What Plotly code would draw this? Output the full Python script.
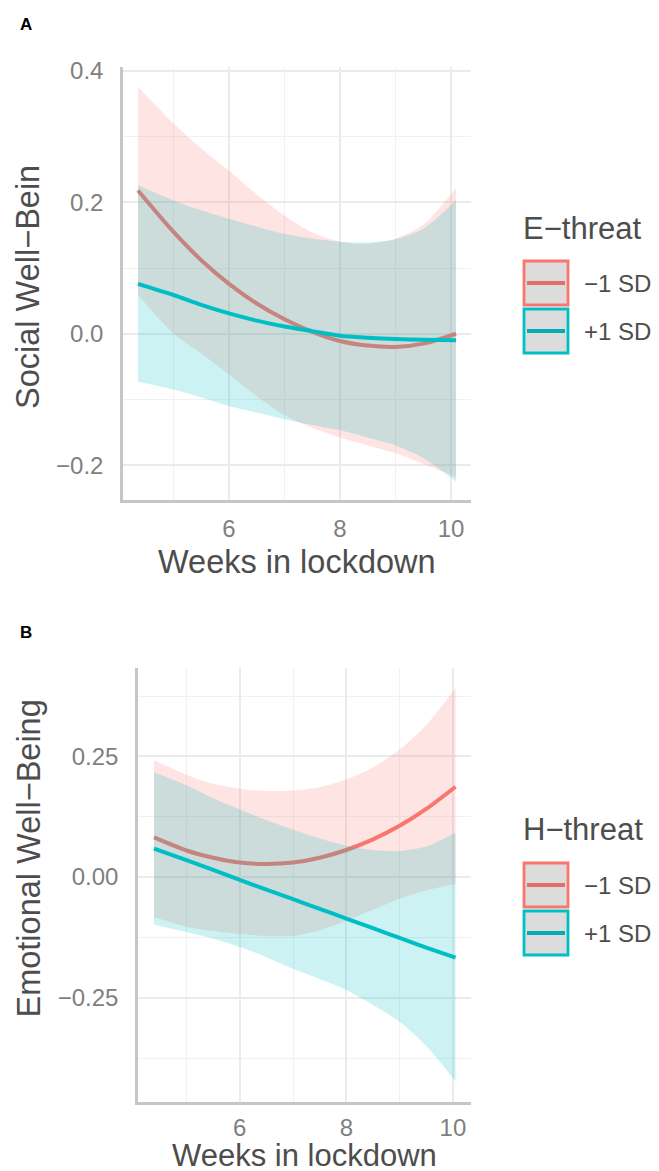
import plotly.graph_objects as go

W, H = 659, 1171

# ---------------- Panel A data (Social Well-Being, E-threat) ----------------
weeks_a = [4.36, 5.0, 5.5, 6.0, 6.5, 7.0, 7.5, 8.0, 8.5, 9.0, 9.5, 10.09]
a_minus_fit = [0.218, 0.155, 0.112, 0.076, 0.046, 0.022, 0.003, -0.011, -0.018, -0.020, -0.015, 0.000]
a_minus_hi = [0.376, 0.320, 0.282, 0.248, 0.212, 0.180, 0.154, 0.140, 0.137, 0.145, 0.166, 0.222]
a_minus_lo = [0.059, 0.000, -0.030, -0.062, -0.095, -0.124, -0.143, -0.158, -0.170, -0.182, -0.198, -0.218]
a_plus_fit = [0.076, 0.059, 0.044, 0.031, 0.020, 0.011, 0.004, -0.003, -0.006, -0.008, -0.009, -0.010]
a_plus_hi = [0.226, 0.203, 0.188, 0.175, 0.163, 0.152, 0.145, 0.140, 0.139, 0.144, 0.160, 0.203]
a_plus_lo = [-0.073, -0.085, -0.097, -0.110, -0.120, -0.130, -0.139, -0.147, -0.158, -0.170, -0.189, -0.225]

# ---------------- Panel B data (Emotional Well-Being, H-threat) ----------------
weeks_b = [4.39, 5.0, 5.5, 6.0, 6.5, 7.0, 7.5, 8.0, 8.5, 9.0, 9.5, 10.05]
b_minus_fit = [0.082, 0.055, 0.040, 0.030, 0.027, 0.030, 0.040, 0.056, 0.078, 0.106, 0.141, 0.187]
b_minus_hi = [0.242, 0.212, 0.193, 0.183, 0.178, 0.179, 0.186, 0.202, 0.227, 0.264, 0.315, 0.391]
b_minus_lo = [-0.083, -0.103, -0.112, -0.118, -0.122, -0.122, -0.110, -0.091, -0.068, -0.045, -0.028, -0.014]
b_plus_fit = [0.059, 0.035, 0.015, -0.006, -0.026, -0.046, -0.066, -0.086, -0.106, -0.126, -0.146, -0.167]
b_plus_hi = [0.217, 0.190, 0.163, 0.140, 0.118, 0.098, 0.080, 0.065, 0.056, 0.054, 0.063, 0.092]
b_plus_lo = [-0.099, -0.114, -0.128, -0.145, -0.166, -0.190, -0.211, -0.234, -0.265, -0.300, -0.350, -0.423]

groups = ["\u22121 SD", "+1 SD"]
legend_titles = ["E\u2212threat", "H\u2212threat"]
panel_labels = ["A", "B"]
y_titles = ["Social Well\u2212Bein", "Emotional Well\u2212Being"]
x_title = "Weeks in lockdown"

RED = "#F8766D"
TEAL = "#00BFC4"
RED_FILL = "rgba(248,118,109,0.2)"
TEAL_FILL = "rgba(0,191,196,0.2)"
FONT = "Liberation Sans, Arial, sans-serif"
TICK_COL = "#7f7f7f"
TITLE_COL = "#4d4d4d"
GRID = "#ebebeb"
MINOR_GRID = "#f1f1f1"
AXIS_COL = "#c6c6c6"


def px(x):
    return x / W


def py(y):
    return 1 - y / H


fig = go.Figure()


def add_band(x, hi, lo, fill, xa, ya):
    fig.add_trace(go.Scatter(
        x=x, y=lo, mode="lines",
        line=dict(width=0, color="rgba(0,0,0,0)", shape="spline", smoothing=0.8),
        hoverinfo="skip", showlegend=False, xaxis=xa, yaxis=ya))
    fig.add_trace(go.Scatter(
        x=x, y=hi, mode="lines", fill="tonexty", fillcolor=fill,
        line=dict(width=0, color="rgba(0,0,0,0)", shape="spline", smoothing=0.8),
        hoverinfo="skip", showlegend=False, xaxis=xa, yaxis=ya))


def add_line(x, y, color, xa, ya, name):
    fig.add_trace(go.Scatter(
        x=x, y=y, mode="lines", name=name,
        line=dict(width=4, color=color, shape="spline", smoothing=0.8),
        showlegend=False, xaxis=xa, yaxis=ya))


# Panel A
add_band(weeks_a, a_minus_hi, a_minus_lo, RED_FILL, "x", "y")
add_line(weeks_a, a_minus_fit, RED, "x", "y", groups[0])
add_band(weeks_a, a_plus_hi, a_plus_lo, TEAL_FILL, "x", "y")
add_line(weeks_a, a_plus_fit, TEAL, "x", "y", groups[1])

# Panel B
add_band(weeks_b, b_minus_hi, b_minus_lo, RED_FILL, "x2", "y2")
add_line(weeks_b, b_minus_fit, RED, "x2", "y2", groups[0])
add_band(weeks_b, b_plus_hi, b_plus_lo, TEAL_FILL, "x2", "y2")
add_line(weeks_b, b_plus_fit, TEAL, "x2", "y2", groups[1])

# panel geometry in pixels: (left, right, top, bottom)
geo = [(115, 463, 59, 492), (130, 463, 660, 1094)]


def xaxis_cfg(g, rng, anchor, standoff):
    l, r, t, b = g
    return dict(domain=[px(l), px(r)], range=rng, anchor=anchor,
                tickmode="linear", tick0=0, dtick=2, showgrid=True,
                gridcolor=GRID, gridwidth=1.8, zeroline=False,
                minor=dict(dtick=1, tick0=0, showgrid=True, gridcolor=MINOR_GRID, gridwidth=1),
                showline=True, linecolor=AXIS_COL, linewidth=2.5,
                ticks="", ticklabelstandoff=standoff,
                tickfont=dict(family=FONT, size=24, color=TICK_COL),
                automargin=False, fixedrange=True)


def yaxis_cfg(g, rng, anchor, dt, fmt):
    l, r, t, b = g
    return dict(domain=[py(b), py(t)], range=rng, anchor=anchor,
                tickmode="linear", tick0=0, dtick=dt, tickformat=fmt, showgrid=True,
                gridcolor=GRID, gridwidth=1.8, zeroline=False,
                minor=dict(dtick=dt / 2, tick0=0, showgrid=True, gridcolor=MINOR_GRID, gridwidth=1),
                showline=True, linecolor=AXIS_COL, linewidth=2.5,
                ticks="", ticklabelstandoff=12,
                tickfont=dict(family=FONT, size=24, color=TICK_COL),
                automargin=False, fixedrange=True)


fig.update_layout(
    width=W, height=H,
    margin=dict(l=0, r=0, t=0, b=0),
    paper_bgcolor="white", plot_bgcolor="white",
    showlegend=False,
    xaxis=xaxis_cfg(geo[0], [4.09, 10.36], "y", 5),
    yaxis=yaxis_cfg(geo[0], [-0.253, 0.406], "x", 0.2, ".1f"),
    xaxis2=xaxis_cfg(geo[1], [4.09, 10.34], "y2", 2),
    yaxis2=yaxis_cfg(geo[1], [-0.466, 0.433], "x2", 0.25, ".2f"),
)

annotations = []
shapes = []

# axis titles and panel letters
x_title_y = [554, 1147]
x_title_size = [32.5, 31]
y_title_x = [20, 20.5]
y_title_cy = [279, 851]
letter_y = [17, 624]
for i, g in enumerate(geo):
    l, r, t, b = g
    annotations.append(dict(text=x_title, x=px((l + r) / 2), y=py(x_title_y[i]),
                            xref="paper", yref="paper", xanchor="center", yanchor="middle",
                            showarrow=False, font=dict(family=FONT, size=x_title_size[i], color=TITLE_COL)))
    annotations.append(dict(text=y_titles[i], x=px(y_title_x[i]), y=py(y_title_cy[i]),
                            xref="paper", yref="paper", xanchor="center", yanchor="middle",
                            textangle=-90, showarrow=False,
                            font=dict(family=FONT, size=32.5, color=TITLE_COL)))
    annotations.append(dict(text="<b>" + panel_labels[i] + "</b>", x=px(18), y=py(letter_y[i]),
                            xref="paper", yref="paper", xanchor="center", yanchor="middle",
                            showarrow=False, font=dict(family=FONT, size=17, color="black")))

# legends
leg_title_y = [220, 821]
key_tops = [[252, 300], [854, 902]]
key_colors = [RED, TEAL]
key_line_colors = ["#e06f68", "#00adb2"]
for i in range(2):
    annotations.append(dict(text=legend_titles[i], x=px(513), y=py(leg_title_y[i]),
                            xref="paper", yref="paper", xanchor="left", yanchor="middle",
                            showarrow=False, font=dict(family=FONT, size=31, color=TITLE_COL)))
    for j in range(2):
        top = key_tops[i][j]
        shapes.append(dict(type="rect", xref="paper", yref="paper",
                           x0=px(516), x1=px(560), y0=py(top + 45), y1=py(top + 1),
                           fillcolor="#dcdcdc", line=dict(color=key_colors[j], width=2.8)))
        shapes.append(dict(type="line", xref="paper", yref="paper",
                           x0=px(519), x1=px(557), y0=py(top + 23), y1=py(top + 23),
                           line=dict(color=key_line_colors[j], width=4)))
        annotations.append(dict(text=groups[j], x=px(574), y=py(top + 23),
                                xref="paper", yref="paper", xanchor="left", yanchor="middle",
                                showarrow=False, font=dict(family=FONT, size=24, color=TITLE_COL)))

fig.update_layout(annotations=annotations, shapes=shapes)

fig.write_html("out.html")
